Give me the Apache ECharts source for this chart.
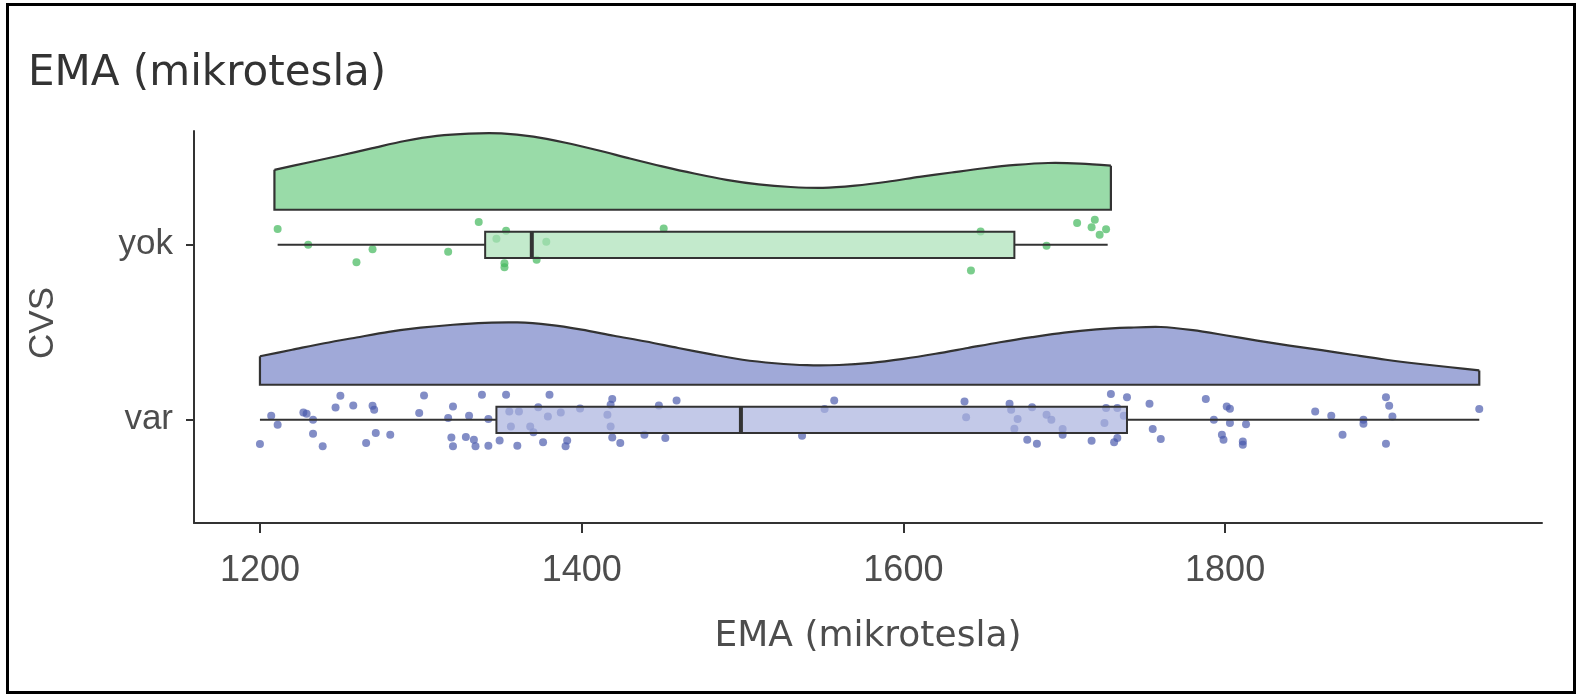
<!DOCTYPE html>
<html>
<head>
<meta charset="utf-8">
<title>EMA (mikrotesla)</title>
<script src="https://cdn.jsdelivr.net/npm/echarts@6/dist/echarts.min.js"></script>
<style>
	html, body {margin: 0; padding: 0; background: #fff;}
	#main {width: 1580px; height: 694px;}
</style>
</head>
<body>
<div id="main"></div>
<script>
var groups = ['var', 'yok'];
var xTicks = [1200, 1400, 1600, 1800];

// density curves (x, height above the base line)
var yokDensityX = [1209, 1230, 1250, 1270, 1290, 1310, 1330, 1350, 1370, 1390, 1410, 1430, 1450, 1470, 1490, 1510, 1530, 1550, 1570, 1590, 1610, 1630, 1650, 1670, 1690, 1710, 1729];
var yokDensityH = [0.228, 0.27, 0.31, 0.352, 0.393, 0.422, 0.435, 0.436, 0.418, 0.383, 0.34, 0.293, 0.248, 0.207, 0.171, 0.145, 0.13, 0.125, 0.138, 0.16, 0.188, 0.213, 0.237, 0.256, 0.267, 0.264, 0.252];
var varDensityX = [1200, 1220, 1240, 1260, 1280, 1300, 1320, 1340, 1360, 1380, 1400, 1420, 1440, 1460, 1480, 1500, 1520, 1540, 1560, 1580, 1600, 1620, 1640, 1660, 1680, 1700, 1720, 1740, 1760, 1780, 1800, 1820, 1840, 1860, 1880, 1900, 1920, 1940, 1958];
var varDensityH = [0.163, 0.2, 0.237, 0.27, 0.302, 0.326, 0.343, 0.354, 0.356, 0.342, 0.315, 0.28, 0.247, 0.21, 0.175, 0.143, 0.123, 0.112, 0.113, 0.125, 0.148, 0.177, 0.21, 0.243, 0.272, 0.298, 0.316, 0.326, 0.33, 0.312, 0.283, 0.252, 0.224, 0.198, 0.17, 0.143, 0.12, 0.1, 0.082];

// min, q1, median, q3, max
var yokBox = [1211, 1340, 1369, 1669, 1727];
var varBox = [1200, 1347, 1499, 1739, 1958];

// jittered points: value and vertical jitter
var yokX = [1211, 1230, 1260, 1270, 1317, 1336, 1347, 1353, 1352, 1352, 1372, 1378, 1451, 1648, 1642, 1689, 1708, 1719, 1717, 1726, 1722];
var yokJitter = [0.09, 0.0, -0.10, -0.025, -0.04, 0.13, 0.035, 0.08, -0.105, -0.128, -0.085, 0.017, 0.093, 0.076, -0.147, -0.006, 0.124, 0.143, 0.10, 0.089, 0.057];
var varX = [1200, 1207, 1211, 1227, 1229, 1233, 1233, 1239, 1250, 1247, 1258, 1270, 1271, 1272, 1266, 1281, 1302, 1299, 1317, 1320,
	1319, 1320, 1330, 1328, 1333, 1334, 1338, 1342, 1342, 1349, 1353, 1355, 1356, 1361, 1360, 1368, 1370, 1373, 1376, 1380,
	1379, 1387, 1391, 1390, 1399, 1419, 1418, 1416, 1418, 1419, 1424, 1439, 1448, 1452, 1459, 1537, 1551, 1557, 1638, 1639,
	1666, 1667, 1671, 1669, 1677, 1683, 1680, 1689, 1692, 1699, 1699, 1717, 1729, 1739, 1726, 1733, 1725, 1737, 1733, 1731,
	1753, 1755, 1760, 1788, 1801, 1803, 1793, 1803, 1813, 1798, 1799, 1811, 1811, 1856, 1866, 1873, 1886, 1886, 1900, 1902,
	1904, 1900, 1958];
var varJitter = [-0.139, 0.023, -0.029, 0.042, 0.034, 0, -0.08, -0.152, 0.137, 0.07, 0.082, 0.08, 0.057, -0.076, -0.133, -0.086, 0.139, 0.038, 0.01, 0.076,
	-0.101, -0.152, 0.023, -0.099, -0.114, -0.152, 0.143, 0.004, -0.148, -0.118, 0.143, 0.047, -0.038, 0.047, -0.148, -0.038, -0.072, 0.072, -0.129, 0.143,
	0.019, 0.042, -0.118, -0.152, 0.064, 0.118, 0.086, 0.029, -0.038, -0.101, -0.133, -0.086, 0.082, -0.104, 0.11, -0.091, 0.061, 0.11, 0.104, 0.015,
	0.091, 0.057, 0.004, -0.051, -0.114, -0.137, 0.072, 0.029, 0, -0.053, -0.086, -0.12, 0.147, 0.129, 0.067, 0.067, -0.019, 0.023, -0.104, -0.129,
	0.091, -0.053, -0.11, 0.118, 0.076, 0.063, 0, -0.019, -0.025, -0.086, -0.114, -0.124, -0.143, 0.047, 0.023, -0.086, 0, -0.023, 0.129, 0.08,
	0.019, -0.137, 0.061];

var lineColor = '#333333';
var textColor = '#4d4d4d';
var labelFont = 'Liberation Sans';
var titleFont = 'DejaVu Sans';

function densityItem(xs, hs, pos, fill) {
	return function (params, api) {
		var base = pos + 0.2;
		var top = [];
		for (var i = 0; i < xs.length; i++) {
			top.push(api.coord([xs[i], base + hs[i]]));
		}
		var b0 = api.coord([xs[0], base]);
		var b1 = api.coord([xs[xs.length - 1], base]);
		return {
			type: 'group',
			children: [
				{type: 'polygon', shape: {points: [b0].concat(top, [b1])}, style: {fill: fill, stroke: null}},
				{type: 'polyline', shape: {points: top, smooth: 0.3}, style: {stroke: lineColor, lineWidth: 2.2, fill: null}},
				{type: 'polyline', shape: {points: [top[top.length - 1], b1, b0, top[0]]}, style: {stroke: lineColor, lineWidth: 2.2, fill: null}}
			]
		};
	};
}

function boxItem(fill) {
	return function (params, api) {
		var pos = api.value(0);
		var half = 0.075;
		var lo = api.coord([api.value(1), pos]);
		var q1 = api.coord([api.value(2), pos + half]);
		var mdTop = api.coord([api.value(3), pos + half]);
		var mdBot = api.coord([api.value(3), pos - half]);
		var q3 = api.coord([api.value(4), pos - half]);
		var hi = api.coord([api.value(5), pos]);
		return {
			type: 'group',
			children: [
				{type: 'line', shape: {x1: lo[0], y1: lo[1], x2: q1[0], y2: lo[1]}, style: {stroke: lineColor, lineWidth: 2}},
				{type: 'line', shape: {x1: q3[0], y1: hi[1], x2: hi[0], y2: hi[1]}, style: {stroke: lineColor, lineWidth: 2}},
				{type: 'rect', shape: {x: q1[0], y: q1[1], width: q3[0] - q1[0], height: q3[1] - q1[1]}, style: {fill: fill, stroke: lineColor, lineWidth: 2}},
				{type: 'line', shape: {x1: mdTop[0], y1: mdTop[1], x2: mdBot[0], y2: mdBot[1]}, style: {stroke: lineColor, lineWidth: 4}}
			]
		};
	};
}

function pointData(xs, js, pos) {
	var out = [];
	for (var i = 0; i < xs.length; i++) {
		out.push([xs[i], pos + js[i]]);
	}
	return out;
}

var myChart = echarts.init(document.getElementById('main'));
var option = {
	backgroundColor: '#ffffff',
	animation: false,
	title: {
		text: 'EMA (mikrotesla)',
		left: 23,
		top: 48,
		textStyle: {fontFamily: titleFont, fontSize: 42, fontWeight: 'normal', color: '#333333'}
	},
	graphic: [
		{type: 'rect', left: 5, top: 2, shape: {width: 1567, height: 688}, style: {fill: null, stroke: '#000', lineWidth: 3}, silent: true}
	],
	grid: {left: 194, right: 38, top: 131, bottom: 171},
	xAxis: {
		type: 'value',
		min: 1159,
		max: 1997,
		name: 'EMA (mikrotesla)',
		nameLocation: 'middle',
		nameGap: 96,
		nameTextStyle: {fontFamily: titleFont, fontSize: 36, color: textColor},
		axisLine: {show: true, lineStyle: {color: lineColor, width: 2}},
		axisTick: {show: true, length: 10, customValues: xTicks, lineStyle: {color: lineColor, width: 2}},
		axisLabel: {
			customValues: xTicks,
			margin: 30,
			fontFamily: labelFont,
			fontSize: 36,
			color: textColor,
			formatter: function (v) { return String(v); }
		},
		splitLine: {show: false}
	},
	yAxis: {
		type: 'value',
		min: 0.41,
		max: 2.65,
		name: 'CVS',
		nameLocation: 'middle',
		nameGap: 133,
		nameRotate: 90,
		nameTextStyle: {fontFamily: labelFont, fontSize: 35, color: textColor, padding: [0, 0, 0, 8]},
		axisLine: {show: true, lineStyle: {color: lineColor, width: 2}},
		axisTick: {show: true, length: 8, customValues: [1, 2], lineStyle: {color: lineColor, width: 2}},
		axisLabel: {
			customValues: [1, 2],
			margin: 21,
			fontFamily: labelFont,
			fontSize: 35,
			color: textColor,
			formatter: function (v) { return groups[Math.round(v) - 1]; }
		},
		splitLine: {show: false}
	},
	series: [
		{type: 'custom', z: 1, renderItem: densityItem(yokDensityX, yokDensityH, 2, '#99dba8'), data: [[yokDensityX[0], 2]]},
		{type: 'custom', z: 1, renderItem: densityItem(varDensityX, varDensityH, 1, '#a0a9d8'), data: [[varDensityX[0], 1]]},
		{type: 'scatter', z: 2, symbolSize: 8, itemStyle: {color: 'rgba(70,186,96,0.9)'}, data: pointData(yokX, yokJitter, 2)},
		{type: 'scatter', z: 2, symbolSize: 8, itemStyle: {color: 'rgba(72,88,172,0.85)'}, data: pointData(varX, varJitter, 1)},
		{type: 'custom', z: 3, renderItem: boxItem('rgba(170,225,182,0.7)'), encode: {x: [1, 2, 3, 4, 5], y: 0}, data: [[2].concat(yokBox)]},
		{type: 'custom', z: 3, renderItem: boxItem('rgba(170,178,222,0.7)'), encode: {x: [1, 2, 3, 4, 5], y: 0}, data: [[1].concat(varBox)]}
	]
};
myChart.setOption(option);
</script>
</body>
</html>
